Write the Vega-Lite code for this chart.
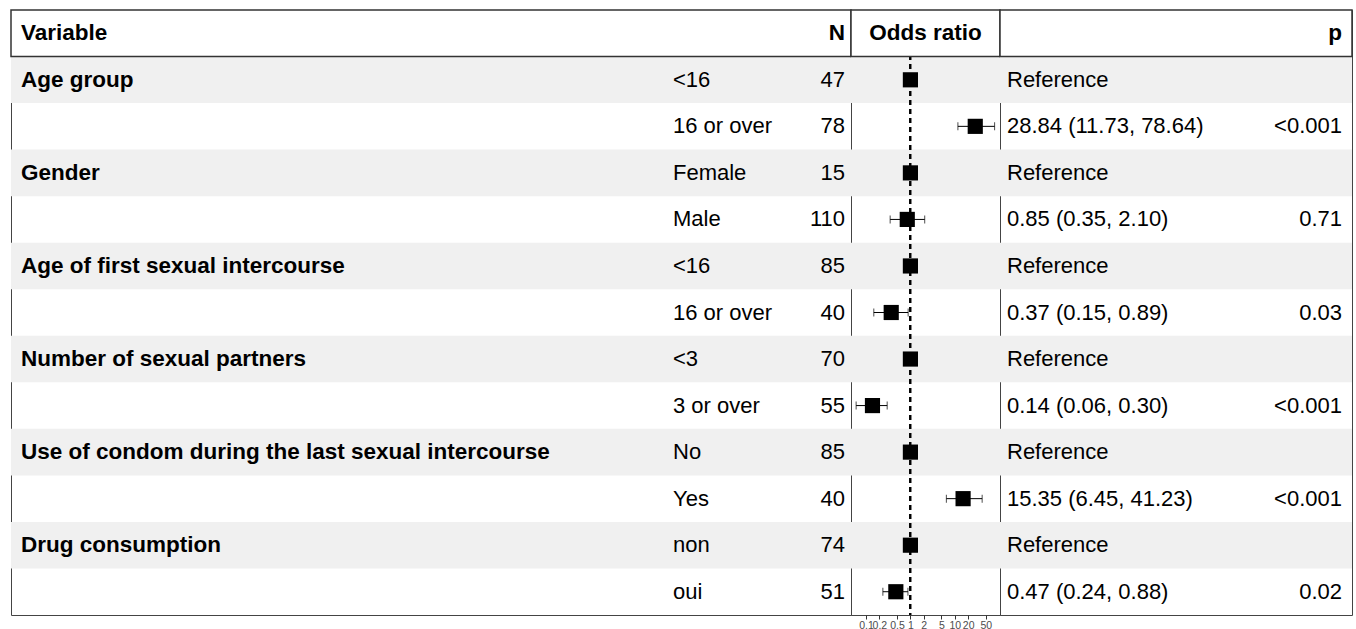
{
  "$schema": "https://vega.github.io/schema/vega-lite/v6.json",
  "padding": {"top": 8, "left": 9, "right": 6, "bottom": 0},
  "autosize": {"type": "pad"},
  "background": "white",
  "spacing": 0,
  "bounds": "flush",
  "datasets": {
    "rows": [
      {"row": 1, "variable": "Age group", "level": "<16", "n": 47, "or": 1, "lo": null, "hi": null, "est": "Reference", "p": ""},
      {"row": 2, "variable": "", "level": "16 or over", "n": 78, "or": 28.84, "lo": 11.73, "hi": 78.64, "est": "28.84 (11.73, 78.64)", "p": "<0.001"},
      {"row": 3, "variable": "Gender", "level": "Female", "n": 15, "or": 1, "lo": null, "hi": null, "est": "Reference", "p": ""},
      {"row": 4, "variable": "", "level": "Male", "n": 110, "or": 0.85, "lo": 0.35, "hi": 2.10, "est": "0.85 (0.35, 2.10)", "p": "0.71"},
      {"row": 5, "variable": "Age of first sexual intercourse", "level": "<16", "n": 85, "or": 1, "lo": null, "hi": null, "est": "Reference", "p": ""},
      {"row": 6, "variable": "", "level": "16 or over", "n": 40, "or": 0.37, "lo": 0.15, "hi": 0.89, "est": "0.37 (0.15, 0.89)", "p": "0.03"},
      {"row": 7, "variable": "Number of sexual partners", "level": "<3", "n": 70, "or": 1, "lo": null, "hi": null, "est": "Reference", "p": ""},
      {"row": 8, "variable": "", "level": "3 or over", "n": 55, "or": 0.14, "lo": 0.06, "hi": 0.30, "est": "0.14 (0.06, 0.30)", "p": "<0.001"},
      {"row": 9, "variable": "Use of condom during the last sexual intercourse", "level": "No", "n": 85, "or": 1, "lo": null, "hi": null, "est": "Reference", "p": ""},
      {"row": 10, "variable": "", "level": "Yes", "n": 40, "or": 15.35, "lo": 6.45, "hi": 41.23, "est": "15.35 (6.45, 41.23)", "p": "<0.001"},
      {"row": 11, "variable": "Drug consumption", "level": "non", "n": 74, "or": 1, "lo": null, "hi": null, "est": "Reference", "p": ""},
      {"row": 12, "variable": "", "level": "oui", "n": 51, "or": 0.47, "lo": 0.24, "hi": 0.88, "est": "0.47 (0.24, 0.88)", "p": "0.02"}
    ],
    "header": [
      {"row": 0, "variable": "Variable", "n": "N", "or": "Odds ratio", "p": "p"}
    ]
  },
  "config": {
    "view": {"stroke": "#444", "strokeWidth": 1},
    "font": "Liberation Sans",
    "text": {"font": "Liberation Sans", "fontSize": 22, "color": "#000", "baseline": "middle"},
    "axis": {"labelFont": "Liberation Sans"}
  },
  "hconcat": [
    {
      "width": 840,
      "height": 605,
      "encoding": {
        "y": {"field": "row", "type": "ordinal", "scale": {"domain": [0,1,2,3,4,5,6,7,8,9,10,11,12], "paddingInner": 0, "paddingOuter": 0}, "axis": null}
      },
      "layer": [
        {"data": {"name": "rows"}, "transform": [{"filter": "datum.est == 'Reference'"}], "mark": {"type": "rect", "fill": "#f0f0f0"}},
        {"data": {"name": "header"}, "mark": {"type": "rect", "fill": "white", "stroke": "#333", "strokeWidth": 1.5}},
        {"data": {"name": "header"}, "mark": {"type": "text", "align": "left", "fontWeight": "bold", "fontSize": 22.5}, "encoding": {"x": {"value": 10}, "text": {"field": "variable"}}},
        {"data": {"name": "header"}, "mark": {"type": "text", "align": "right", "fontWeight": "bold", "fontSize": 22.5}, "encoding": {"x": {"value": 834}, "text": {"field": "n"}}},
        {"data": {"name": "rows"}, "mark": {"type": "text", "align": "left", "fontWeight": "bold", "fontSize": 22.5}, "encoding": {"x": {"value": 10}, "text": {"field": "variable"}}},
        {"data": {"name": "rows"}, "mark": {"type": "text", "align": "left"}, "encoding": {"x": {"value": 662}, "text": {"field": "level"}}},
        {"data": {"name": "rows"}, "mark": {"type": "text", "align": "right"}, "encoding": {"x": {"value": 834}, "text": {"field": "n", "type": "quantitative", "format": "d"}}}
      ]
    },
    {
      "width": 149,
      "height": 605,
      "encoding": {
        "y": {"field": "row", "type": "ordinal", "scale": {"domain": [0,1,2,3,4,5,6,7,8,9,10,11,12], "paddingInner": 0, "paddingOuter": 0}, "axis": null}
      },
      "layer": [
        {"data": {"name": "rows"}, "transform": [{"filter": "datum.est == 'Reference'"}], "mark": {"type": "rect", "fill": "#f0f0f0"}},
        {"data": {"name": "rows"}, "mark": {"type": "rule", "strokeDash": [5, 4], "color": "#000", "strokeWidth": 1.3},
         "encoding": {"x": {"datum": 1, "type": "quantitative", "scale": {"type": "log", "domain": [0.046, 104], "nice": false, "zero": false}, "axis": {"values": [0.1, 0.2, 0.5, 1, 2, 5, 10, 20, 50], "format": "~g", "title": null, "domain": false, "grid": false, "ticks": true, "tickSize": 4, "tickColor": "#333", "labelFontSize": 10.5, "labelColor": "#4d4d4d", "labelPadding": 1, "labelOverlap": false, "labelFlush": false}}, "y": null}},
        {"data": {"name": "header"}, "mark": {"type": "rect", "fill": "white", "stroke": "#333", "strokeWidth": 1.5}},
        {"data": {"name": "header"}, "mark": {"type": "text", "align": "center", "fontWeight": "bold", "fontSize": 22.5}, "encoding": {"text": {"field": "or"}}},
        {"data": {"name": "rows"}, "transform": [{"filter": "datum.lo != null"}], "mark": {"type": "rule", "color": "#000", "strokeWidth": 1}, "encoding": {"x": {"field": "lo", "type": "quantitative"}, "x2": {"field": "hi"}}},
        {"data": {"name": "rows"}, "transform": [{"filter": "datum.lo != null"}], "mark": {"type": "tick", "color": "#000", "thickness": 1, "size": 8, "orient": "vertical"}, "encoding": {"x": {"field": "lo", "type": "quantitative"}}},
        {"data": {"name": "rows"}, "transform": [{"filter": "datum.lo != null"}], "mark": {"type": "tick", "color": "#000", "thickness": 1, "size": 8, "orient": "vertical"}, "encoding": {"x": {"field": "hi", "type": "quantitative"}}},
        {"data": {"name": "rows"}, "mark": {"type": "point", "shape": "square", "filled": true, "color": "#000", "size": 230, "opacity": 1}, "encoding": {"x": {"field": "or", "type": "quantitative"}}}
      ]
    },
    {
      "width": 352,
      "height": 605,
      "encoding": {
        "y": {"field": "row", "type": "ordinal", "scale": {"domain": [0,1,2,3,4,5,6,7,8,9,10,11,12], "paddingInner": 0, "paddingOuter": 0}, "axis": null}
      },
      "layer": [
        {"data": {"name": "rows"}, "transform": [{"filter": "datum.est == 'Reference'"}], "mark": {"type": "rect", "fill": "#f0f0f0"}},
        {"data": {"name": "header"}, "mark": {"type": "rect", "fill": "white", "stroke": "#333", "strokeWidth": 1.5}},
        {"data": {"name": "header"}, "mark": {"type": "text", "align": "right", "fontWeight": "bold", "fontSize": 22.5}, "encoding": {"x": {"value": 342}, "text": {"field": "p"}}},
        {"data": {"name": "rows"}, "mark": {"type": "text", "align": "left"}, "encoding": {"x": {"value": 7}, "text": {"field": "est"}}},
        {"data": {"name": "rows"}, "mark": {"type": "text", "align": "right"}, "encoding": {"x": {"value": 342}, "text": {"field": "p"}}}
      ]
    }
  ]
}
